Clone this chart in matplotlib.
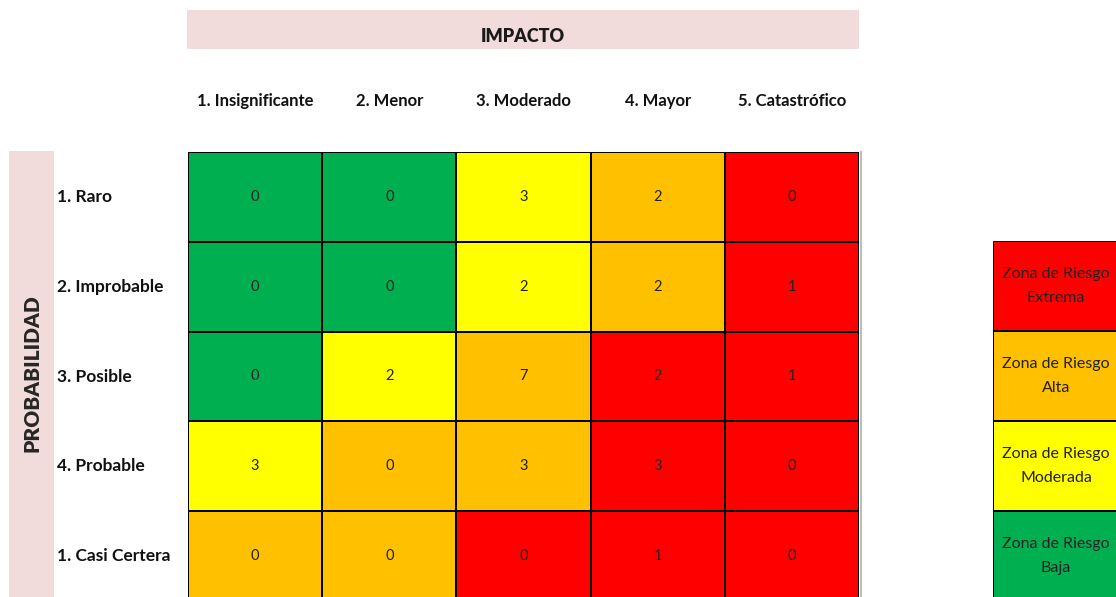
import matplotlib
matplotlib.use("Agg")
import matplotlib.pyplot as plt
from matplotlib.patches import Rectangle
from matplotlib.colors import ListedColormap
import numpy as np

# ---- data ----
impact_labels = ["1. Insignificante", "2. Menor", "3. Moderado", "4. Mayor", "5. Catastrófico"]
prob_labels = ["1. Raro", "2. Improbable", "3. Posible", "4. Probable", "1. Casi Certera"]
counts = [
    [0, 0, 3, 2, 0],
    [0, 0, 2, 2, 1],
    [0, 2, 7, 2, 1],
    [3, 0, 3, 3, 0],
    [0, 0, 0, 1, 0],
]
# zone index: 0 Baja, 1 Moderada, 2 Alta, 3 Extrema
zones = [
    [0, 0, 1, 2, 3],
    [0, 0, 1, 2, 3],
    [0, 1, 2, 3, 3],
    [1, 2, 2, 3, 3],
    [2, 2, 3, 3, 3],
]
zone_colors = ["#00B050", "#FFFF00", "#FFC000", "#FF0000"]
legend_labels = ["Zona de Riesgo\nExtrema", "Zona de Riesgo\nAlta", "Zona de Riesgo\nModerada", "Zona de Riesgo\nBaja"]
legend_zones = [3, 2, 1, 0]
x_title = "IMPACTO"
y_title = "PROBABILIDAD"

W, H = 1116, 597
FONT = "Lato"
fig = plt.figure(figsize=(W / 100, H / 100), dpi=100)

# background decoration axes in pixel coordinates
bg = fig.add_axes([0, 0, 1, 1])
bg.set_xlim(0, W)
bg.set_ylim(H, 0)
bg.axis("off")
pink = "#F2DCDB"
bg.add_patch(Rectangle((187, 10), 672, 39, facecolor=pink, edgecolor="none"))
bg.add_patch(Rectangle((9, 151), 45, 460, facecolor=pink, edgecolor="none"))
bg.text(523, 37, x_title, ha="center", va="center", fontsize=13, fontweight="heavy",
        family=FONT, color="#1a1a1a")
bg.text(32, 373, y_title, ha="center", va="center", rotation=90, fontsize=15,
        fontweight="heavy", family=FONT, color="#262626")
bg.plot([861, 861], [152, 600], color="#bbbbbb", lw=1.5)

# heatmap axes
def px_axes(left, top, right, bottom):
    return fig.add_axes([left / W, 1 - bottom / H, (right - left) / W, (bottom - top) / H])

ax = px_axes(188, 152, 859, 601)
cmap = ListedColormap(zone_colors)
z = np.array(zones)
nrows, ncols = z.shape
ax.pcolormesh(np.arange(ncols + 1), np.arange(nrows + 1), z, cmap=cmap, vmin=-0.5, vmax=3.5,
              edgecolors="black", linewidth=1.2)
ax.set_xlim(0, ncols)
ax.set_ylim(nrows, 0)
ax.axis("off")
for i in range(nrows):
    for j in range(ncols):
        ax.text(j + 0.5, i + 0.5, str(counts[i][j]), ha="center", va="center",
                fontsize=10.5, family=FONT, color="#222222")
for j, lab in enumerate(impact_labels):
    ax.text(j + 0.5, -0.565, lab, ha="center", va="center", fontsize=12,
            fontweight="bold", family=FONT, color="#111111", clip_on=False)
for i, lab in enumerate(prob_labels):
    ax.text(-0.975, i + 0.5, lab, ha="left", va="center", fontsize=12.5,
            fontweight="bold", family=FONT, color="#111111", clip_on=False)

# legend axes
lg = px_axes(993, 241, 1127, 601)
lg.pcolormesh([0, 1], np.arange(len(legend_zones) + 1), np.array(legend_zones).reshape(-1, 1),
              cmap=cmap, vmin=-0.5, vmax=3.5, edgecolors="black", linewidth=1.2)
lg.set_xlim(0, 1)
lg.set_ylim(len(legend_zones), 0)
lg.axis("off")
for i, lab in enumerate(legend_labels):
    lg.text(0.47, i + 0.5, lab, ha="center", va="center", fontsize=11.5, family=FONT,
            color="#222222", linespacing=1.85)

fig.savefig("out.png", dpi=100)
